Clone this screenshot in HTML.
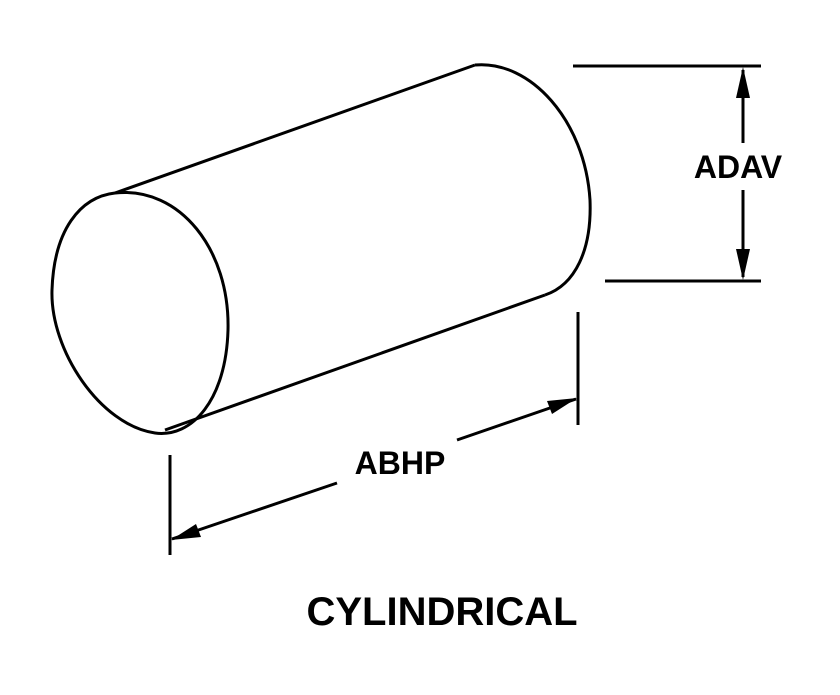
<!DOCTYPE html>
<html><head><meta charset="utf-8"><style>html,body{margin:0;padding:0;background:#fff}</style></head>
<body>
<svg width="840" height="690" viewBox="0 0 840 690" xmlns="http://www.w3.org/2000/svg">
<g fill="none" stroke="#000" stroke-width="3">
<path d="M115,193 C180,186 230,250 228,330 C226,400 192,438 155,433 C100,425 50,350 52,290 C54,230 80,197 115,193 Z"/>
<line x1="115" y1="193" x2="475" y2="65"/>
<line x1="165" y1="430" x2="545" y2="295"/>
<path d="M475,65 C530,60 585,120 590,200 C592,250 575,285 545,295"/>
<line x1="573" y1="66" x2="761" y2="66"/>
<line x1="605" y1="281" x2="761" y2="281"/>
<line x1="743" y1="70" x2="743" y2="143"/>
<line x1="743" y1="190" x2="743" y2="277"/>
<line x1="578" y1="312" x2="578" y2="425"/>
<line x1="170" y1="455" x2="170" y2="555"/>
<line x1="172" y1="539" x2="337" y2="483"/>
<line x1="457" y1="440" x2="576" y2="399"/>
</g>
<g fill="#000">
<polygon points="743,67 736,98 750,98"/>
<polygon points="743,280 736,249 750,249"/>
<polygon points="577,398 547,401 552,414"/>
<polygon points="171,540 201,537 196,524"/>
</g>
<g font-family="Liberation Sans, sans-serif" font-weight="bold" fill="#000" text-anchor="middle">
<text x="738" y="178" font-size="32">ADAV</text>
<text x="400" y="474" font-size="32">ABHP</text>
<text x="442" y="625" font-size="40">CYLINDRICAL</text>
</g>
</svg>
</body></html>
